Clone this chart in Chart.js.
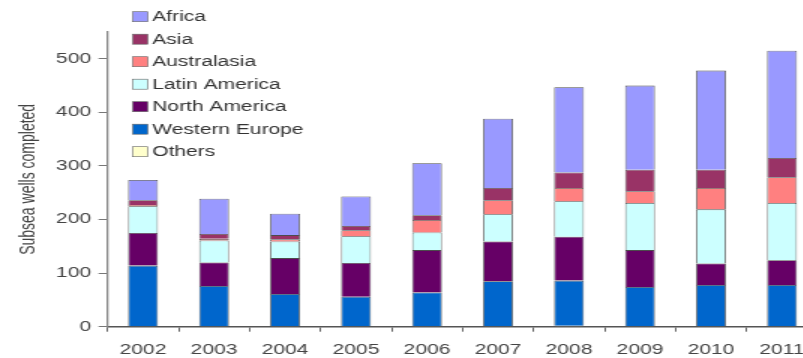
<!DOCTYPE html>
<html>
<head>
<meta charset="utf-8">
<title>Subsea wells completed</title>
<script src="https://cdn.jsdelivr.net/npm/chart.js@4.4.0/dist/chart.umd.min.js"></script>
<style>
  html, body { margin: 0; padding: 0; background: #fff; overflow: hidden; }
  /* chart is laid out narrow and stretched sideways */
  #wrap { width: 554px; height: 358px; transform: scaleX(1.5); transform-origin: 0 0; }
</style>
</head>
<body>
<div id="wrap"><canvas id="wells" width="554" height="358"></canvas></div>
<script>
const years = ["2002", "2003", "2004", "2005", "2006", "2007", "2008", "2009", "2010", "2011"];
const others        = [0, 0, 0, 0, 0, 0, 2, 0, 0, 0];
const westernEurope = [114, 76, 61, 56, 64, 85, 84, 74, 78, 78];
const northAmerica  = [61, 44, 67, 63, 79, 74, 82, 69, 40, 46];
const latinAmerica  = [50, 41, 31, 50, 33, 51, 66, 88, 101, 107];
const australasia   = [2, 3, 4, 11, 23, 26, 25, 22, 40, 48];
const asia          = [9, 9, 8, 8, 9, 23, 29, 40, 34, 36];
const africa        = [38, 66, 40, 55, 97, 129, 159, 157, 185, 200];
const yTicks = [0, 100, 200, 300, 400, 500];
const yMax = 550;

const fontFamily = '"Liberation Sans", Arial, sans-serif';
Chart.defaults.font.family = fontFamily;

function series(label, data, color) {
  return {
    label: label,
    data: data,
    backgroundColor: color,
    borderColor: "rgba(45,45,45,0.85)",
    borderWidth: 0.8,
    barPercentage: 0.42,
    categoryPercentage: 1
  };
}

// legend drawn inside the plot, top-left, Africa first
const legendBoxes = {
  id: "legendBoxes",
  afterDraw(chart) {
    const ctx = chart.ctx;
    const sets = chart.data.datasets.slice().reverse();
    ctx.save();
    ctx.font = "14px " + fontFamily;
    ctx.textBaseline = "middle";
    sets.forEach((ds, i) => {
      const y = 16.7 + i * 22.5;
      ctx.fillStyle = ds.backgroundColor;
      ctx.fillRect(88.5, y - 5, 10, 10);
      ctx.strokeStyle = "#666";
      ctx.lineWidth = 0.6;
      ctx.strokeRect(88.5, y - 5, 10, 10);
      ctx.fillStyle = "#333";
      ctx.fillText(ds.label, 101.5, y + 0.5);
    });
    ctx.restore();
  }
};

const ctx = document.getElementById("wells").getContext("2d");
const chart = new Chart(ctx, {
  type: "bar",
  data: {
    labels: years,
    datasets: [
      series("Others", others, "#ffffcc"),
      series("Western Europe", westernEurope, "#0066cc"),
      series("North America", northAmerica, "#660066"),
      series("Latin America", latinAmerica, "#ccffff"),
      series("Australasia", australasia, "#ff8080"),
      series("Asia", asia, "#993366"),
      series("Africa", africa, "#9999ff")
    ]
  },
  options: {
    responsive: false,
    animation: false,
    layout: { padding: { top: 32, left: 0, right: 9, bottom: 0 } },
    plugins: {
      legend: { display: false },
      tooltip: { enabled: false }
    },
    scales: {
      x: {
        stacked: true,
        afterFit: scale => { scale.height = 31.3; },
        border: { color: "#555", width: 1.5 },
        grid: { display: true, drawOnChartArea: false, drawTicks: true, tickLength: 5, color: "#666", offset: true },
        ticks: { color: "#444", font: { size: 14 }, padding: 10, maxRotation: 0, autoSkip: false }
      },
      y: {
        stacked: true,
        min: 0,
        max: yMax,
        afterFit: scale => { scale.width = 71.7; },
        afterBuildTicks: scale => { scale.ticks = yTicks.map(v => ({ value: v })); },
        border: { color: "#888", width: 1.3 },
        grid: { display: true, drawOnChartArea: false, drawTicks: true, tickLength: 6, color: "#777" },
        ticks: { color: "#444", font: { size: 14 }, padding: 5 },
        title: {
          display: true,
          text: "Subsea wells completed",
          color: "#444",
          font: { size: 14 },
          padding: { top: 11, bottom: 0 }
        }
      }
    }
  },
  plugins: [legendBoxes]
});
</script>
</body>
</html>
